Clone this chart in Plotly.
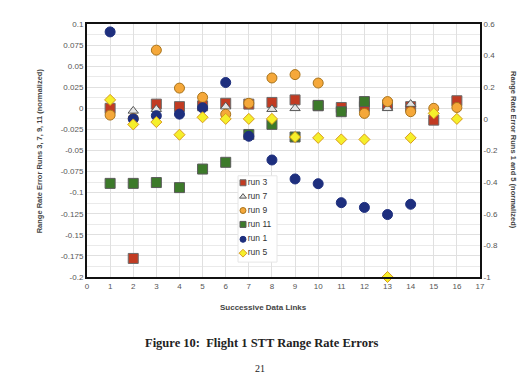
import plotly.graph_objects as go

# ---- data ----
run3_x = [1, 2, 3, 4, 5, 6, 7, 8, 9, 10, 11, 12, 13, 14, 15, 16]
run3_y = [0.0, -0.178, 0.005, 0.002, 0.003, 0.006, 0.005, 0.007, 0.010, 0.003, 0.001, 0.002, 0.004, 0.002, -0.014, 0.009]

run7_x = [2, 3, 6, 8, 9, 13, 14]
run7_y = [-0.003, -0.001, 0.002, -0.001, 0.0, 0.0, 0.005]

run9_x = [1, 2, 3, 4, 5, 6, 7, 8, 9, 10, 12, 13, 14, 15, 16]
run9_y = [-0.008, -0.012, 0.069, 0.024, 0.013, -0.007, 0.006, 0.036, 0.040, 0.030, -0.006, 0.008, -0.004, 0.0, 0.001]

run11_x = [1, 2, 3, 4, 5, 6, 7, 8, 9, 10, 11, 12]
run11_y = [-0.089, -0.089, -0.088, -0.094, -0.072, -0.064, -0.031, -0.019, -0.034, 0.0035, -0.004, 0.008]

run1_x = [1, 2, 3, 4, 5, 6, 7, 8, 9, 10, 11, 12, 13, 14]
run1_y = [0.55, 0.0, 0.02, 0.03, 0.07, 0.23, -0.11, -0.26, -0.38, -0.41, -0.53, -0.56, -0.605, -0.54]

run5_x = [1, 2, 3, 4, 5, 6, 7, 8, 9, 10, 11, 12, 13, 14, 15, 16]
run5_y = [0.12, -0.035, -0.02, -0.10, 0.01, 0.0, 0.0, 0.0, -0.115, -0.12, -0.13, -0.13, -1.0, -0.12, 0.035, 0.0]

series_names = ["run 3", "run 7", "run 9", "run 11", "run 1", "run 5"]

x_ticks = list(range(0, 18))
left_ticks = [0.1, 0.075, 0.05, 0.025, 0, -0.025, -0.05, -0.075, -0.1, -0.125, -0.15, -0.175, -0.2]
left_labels = ["0.1", "0.075", "0.05", "0.025", "0", "-0.025", "-0.05", "-0.075", "-0.1", "-0.125", "-0.15", "-0.175", "-0.2"]
right_ticks = [0.6, 0.4, 0.2, 0, -0.2, -0.4, -0.6, -0.8, -1]
right_labels = ["0.6", "0.4", "0.2", "0", "-0.2", "-0.4", "-0.6", "-0.8", "-1"]

FONT = "Liberation Sans, Arial, sans-serif"

styles = [
    dict(symbol="square", size=10, color="#c23b22", line=dict(color="#6b6b6b", width=1)),
    dict(symbol="triangle-up", size=9, color="#e4e4e4", line=dict(color="#555555", width=1)),
    dict(symbol="circle", size=10, color="#f5a83a", line=dict(color="#a8741c", width=1)),
    dict(symbol="square", size=10, color="#3c7a2a", line=dict(color="#5a5a5a", width=1)),
    dict(symbol="circle", size=10, color="#1e2f7e", line=dict(color="#1e2f7e", width=1)),
    dict(symbol="diamond", size=8.5, color="#f5ef2a", line=dict(color="#d99a1e", width=1)),
]
data = [(run3_x, run3_y, "y"), (run7_x, run7_y, "y"), (run9_x, run9_y, "y"),
        (run11_x, run11_y, "y"), (run1_x, run1_y, "y2"), (run5_x, run5_y, "y2")]

fig = go.Figure()
for name, (xs, ys, ax), st in zip(series_names, data, styles):
    fig.add_trace(go.Scatter(x=xs, y=ys, mode="markers", name=name, yaxis=ax,
                             marker=st, cliponaxis=False, showlegend=False))

# ---- compact legend box (page-pixel overlay axes) ----
LX0, LX1, LY0, LY1 = 238, 277, 175, 262
fig.add_trace(go.Scatter(x=[LX0, LX1, LX1, LX0, LX0], y=[LY0, LY0, LY1, LY1, LY0],
                         xaxis="x2", yaxis="y3", mode="lines", fill="toself",
                         fillcolor="white", line=dict(color="#e6e6e6", width=1),
                         showlegend=False, hoverinfo="skip"))
leg_y = [182, 196, 210, 224, 239, 253]
for name, st, yy in zip(series_names, styles, leg_y):
    m = dict(st)
    m["size"] = 6
    m["line"] = dict(color=st["line"]["color"], width=1)
    fig.add_trace(go.Scatter(x=[243], y=[yy], xaxis="x2", yaxis="y3",
                             mode="markers+text", text=[name], textposition="middle right",
                             textfont=dict(family=FONT, size=8.5, color="#333333"),
                             marker=m, showlegend=False, hoverinfo="skip", cliponaxis=False))

fig.update_layout(
    width=519, height=368,
    margin=dict(l=79, r=47, t=14, b=99),
    paper_bgcolor="white", plot_bgcolor="white",
    font=dict(family=FONT, size=8, color="#444444"),
    showlegend=False,
    xaxis=dict(range=[0, 17], tickmode="array", tickvals=x_ticks,
               ticktext=[str(v) for v in x_ticks],
               showgrid=True, gridcolor="#e0e0e0", gridwidth=1,
               showline=True, linecolor="#111111", linewidth=2, mirror=True,
               zeroline=False, ticks="",
               tickfont=dict(size=8, color="#555555")),
    yaxis=dict(range=[-0.2, 0.1], tickmode="array", tickvals=left_ticks, ticktext=left_labels,
               showgrid=True, gridcolor="#e0e0e0", gridwidth=1,
               minor=dict(tickmode="linear", tick0=0, dtick=0.0125, showgrid=True,
                          gridcolor="#eaeaea", gridwidth=1, ticks=""),
               showline=True, linecolor="#111111", linewidth=2, mirror=True,
               zeroline=False, ticks="", tickfont=dict(size=8, color="#555555")),
    yaxis2=dict(range=[-1, 0.6], overlaying="y", side="right",
                tickmode="array", tickvals=right_ticks, ticktext=right_labels,
                showgrid=False, zeroline=False, showline=True,
                linecolor="#111111", linewidth=2, ticks="",
                tickfont=dict(size=8, color="#555555")),
    xaxis2=dict(range=[87, 480], overlaying="x", visible=False, showgrid=False, zeroline=False),
    yaxis3=dict(range=[277, 22], overlaying="y", anchor="x2", visible=False,
                showgrid=False, zeroline=False),
)

fig.add_annotation(text="<b>Range Rate Error Runs 3, 7, 9, 11 (normalized)</b>",
                   xref="paper", yref="paper", x=-0.12, y=0.5, textangle=-90,
                   showarrow=False, xanchor="center", yanchor="middle",
                   font=dict(family=FONT, size=7.5, color="#444444"))
fig.add_annotation(text="<b>Range Rate Error Runs 1 and 5 (normalized)</b>",
                   xref="paper", yref="paper", x=1.085, y=0.5, textangle=90,
                   showarrow=False, xanchor="center", yanchor="middle",
                   font=dict(family=FONT, size=7.5, color="#444444"))
fig.add_annotation(text="<b>Successive Data Links</b>",
                   xref="paper", yref="paper", x=0.45, y=-0.122,
                   showarrow=False, xanchor="center", yanchor="middle",
                   font=dict(family=FONT, size=8, color="#444444"))
fig.add_annotation(text="<b>Figure 10:\u00a0 Flight 1 STT Range Rate Errors</b>",
                   xref="paper", yref="paper", x=0.443, y=-0.259,
                   showarrow=False, xanchor="center", yanchor="middle",
                   font=dict(family="Liberation Serif, Times New Roman, serif", size=12.5, color="#222222"))
fig.add_annotation(text="21",
                   xref="paper", yref="paper", x=0.44, y=-0.333,
                   showarrow=False, xanchor="center", yanchor="top",
                   font=dict(family="Liberation Serif, Times New Roman, serif", size=10, color="#222222"))

fig.write_html("out.html")
